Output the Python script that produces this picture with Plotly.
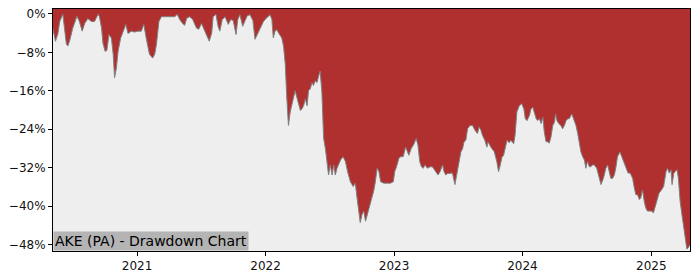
import plotly.graph_objects as go

dates = [
    "2020-05-07", "2020-05-14", "2020-05-21", "2020-05-26", "2020-06-04", "2020-06-09",
    "2020-06-14", "2020-06-18", "2020-06-23", "2020-07-02", "2020-07-14", "2020-07-21",
    "2020-07-29", "2020-08-05", "2020-08-14", "2020-08-24", "2020-09-02", "2020-09-12",
    "2020-09-16", "2020-09-22", "2020-09-26", "2020-10-02", "2020-10-07", "2020-10-13",
    "2020-10-20", "2020-10-25", "2020-10-29", "2020-11-03", "2020-11-08", "2020-11-15",
    "2020-11-22", "2020-11-30", "2020-12-06", "2020-12-16", "2020-12-25",
    "2021-01-03", "2021-01-13", "2021-01-20", "2021-01-27", "2021-02-05", "2021-02-14",
    "2021-02-20", "2021-02-25", "2021-03-04", "2021-03-11", "2021-03-21", "2021-03-30",
    "2021-04-09", "2021-04-18", "2021-04-25", "2021-05-02", "2021-05-09", "2021-05-16",
    "2021-05-22", "2021-05-31", "2021-06-08", "2021-06-19", "2021-06-25", "2021-07-03",
    "2021-07-10", "2021-07-17", "2021-07-25", "2021-08-01", "2021-08-05", "2021-08-13",
    "2021-08-19", "2021-08-24", "2021-08-31", "2021-09-08", "2021-09-17", "2021-09-24",
    "2021-10-01", "2021-10-09", "2021-10-14", "2021-10-20", "2021-10-28", "2021-11-04",
    "2021-11-10", "2021-11-18", "2021-11-26", "2021-12-02", "2021-12-09", "2021-12-16",
    "2021-12-26",
    "2022-01-03", "2022-01-09", "2022-01-14", "2022-01-19", "2022-01-23", "2022-01-28",
    "2022-02-02", "2022-02-07", "2022-02-11", "2022-02-16", "2022-02-21", "2022-02-26",
    "2022-03-02", "2022-03-07", "2022-03-12", "2022-03-17", "2022-03-21", "2022-03-26",
    "2022-03-31", "2022-04-05", "2022-04-10", "2022-04-14", "2022-04-19", "2022-04-24",
    "2022-04-29", "2022-05-03", "2022-05-08", "2022-05-13", "2022-05-17", "2022-05-22",
    "2022-05-27", "2022-06-01", "2022-06-05", "2022-06-10", "2022-06-15", "2022-06-20",
    "2022-06-25", "2022-06-29", "2022-07-04", "2022-07-09", "2022-07-14", "2022-07-18",
    "2022-07-23", "2022-07-28", "2022-08-02", "2022-08-09", "2022-08-16", "2022-08-22",
    "2022-08-30", "2022-09-07", "2022-09-13", "2022-09-18", "2022-09-23", "2022-09-27",
    "2022-10-02", "2022-10-07", "2022-10-12", "2022-10-17", "2022-10-21", "2022-10-26",
    "2022-10-31", "2022-11-04", "2022-11-09", "2022-11-14", "2022-11-19", "2022-11-24",
    "2022-12-03", "2022-12-13", "2022-12-22", "2022-12-30",
    "2023-01-03", "2023-01-08", "2023-01-15", "2023-01-20", "2023-01-27", "2023-02-03",
    "2023-02-08", "2023-02-12", "2023-02-19", "2023-02-27", "2023-03-05", "2023-03-10",
    "2023-03-15", "2023-03-20", "2023-03-25", "2023-03-30", "2023-04-06", "2023-04-13",
    "2023-04-20", "2023-04-25", "2023-04-29", "2023-05-06", "2023-05-12", "2023-05-19",
    "2023-05-23", "2023-05-28", "2023-06-02", "2023-06-09", "2023-06-16", "2023-06-23",
    "2023-06-28", "2023-07-05", "2023-07-10", "2023-07-15", "2023-07-19", "2023-07-24",
    "2023-07-29", "2023-08-05", "2023-08-12", "2023-08-19", "2023-08-26", "2023-08-31",
    "2023-09-05", "2023-09-09", "2023-09-16", "2023-09-22", "2023-09-25", "2023-10-03",
    "2023-10-13", "2023-10-20", "2023-10-25", "2023-10-30", "2023-11-04", "2023-11-08",
    "2023-11-13", "2023-11-18", "2023-11-24", "2023-11-29", "2023-12-07", "2023-12-11",
    "2023-12-16", "2023-12-23", "2023-12-30",
    "2024-01-05", "2024-01-09", "2024-01-14", "2024-01-21", "2024-01-25", "2024-01-30",
    "2024-02-04", "2024-02-09", "2024-02-13", "2024-02-18", "2024-02-23", "2024-02-28",
    "2024-03-03", "2024-03-08", "2024-03-13", "2024-03-17", "2024-03-22", "2024-03-27",
    "2024-04-01", "2024-04-04", "2024-04-08", "2024-04-13", "2024-04-19", "2024-04-24",
    "2024-04-29", "2024-05-04", "2024-05-09", "2024-05-13", "2024-05-20", "2024-05-26",
    "2024-06-01", "2024-06-06", "2024-06-10", "2024-06-15", "2024-06-20", "2024-06-25",
    "2024-06-29", "2024-07-04", "2024-07-09", "2024-07-13", "2024-07-18", "2024-07-23",
    "2024-07-30", "2024-08-06", "2024-08-11", "2024-08-18", "2024-08-25", "2024-08-30",
    "2024-09-03", "2024-09-08", "2024-09-13", "2024-09-18", "2024-09-22", "2024-09-27",
    "2024-10-04", "2024-10-09", "2024-10-16", "2024-10-21", "2024-10-27", "2024-11-02",
    "2024-11-09", "2024-11-13", "2024-11-18", "2024-11-23", "2024-11-28", "2024-12-02",
    "2024-12-07", "2024-12-12", "2024-12-16", "2024-12-21", "2024-12-26",
    "2025-01-02", "2025-01-07", "2025-01-12", "2025-01-17", "2025-01-23", "2025-01-30",
    "2025-02-05", "2025-02-12", "2025-02-16", "2025-02-21", "2025-02-26", "2025-03-01",
    "2025-03-06", "2025-03-10", "2025-03-15", "2025-03-19", "2025-03-24", "2025-03-29",
    "2025-04-03", "2025-04-07", "2025-04-12", "2025-04-17", "2025-04-21",
]

drawdown_pct = [
    -3.2, -5.7, -4.1, -1.6, -0.1, -3.6,
    -6.3, -6.7, -5.7, -3.0, -0.5, -1.6,
    -3.6, -2.0, -1.0, -1.6, -1.6, -0.1,
    -0.6, -3.0, -6.1, -7.8, -7.6, -4.3,
    -5.1, -8.4, -13.3, -11.3, -7.8, -5.1,
    -3.6, -2.2, -4.1, -3.6, -3.8,
    -3.6, -3.6, -2.2, -5.1, -8.4, -9.2,
    -8.4, -6.3, -1.6, -0.6, -0.6, -0.6,
    -0.6, -0.6, -0.1, -1.2, -1.9, -2.4,
    -0.9, -0.6, -1.2, -3.0, -3.2, -2.0,
    -3.2, -4.3, -5.7, -4.0, -0.6, -0.1,
    -2.6, -3.6, -1.2, -0.6, -2.2, -1.2,
    -1.4, -4.3, -1.2, -0.2, -2.6, -1.4,
    -0.4, -0.2, -1.4, -5.3, -4.3, -3.2,
    -1.6,
    -0.9, -0.4, -0.2, -1.2, -5.0, -3.6,
    -3.3, -4.0, -4.5, -5.0, -6.7, -10.5,
    -17.0, -23.2, -20.4, -18.7, -17.7, -16.0,
    -17.4, -19.1, -20.1, -19.8, -19.1, -17.7,
    -19.1, -16.0, -15.6, -14.3, -14.9, -13.9,
    -14.3, -12.9, -11.9, -16.3, -25.9, -28.0,
    -31.4, -33.5, -31.4, -33.5, -31.4, -33.5,
    -32.1, -31.1, -30.4, -29.7, -30.7, -32.8,
    -34.9, -35.9, -35.2, -38.3, -41.0, -43.4,
    -41.7, -41.0, -43.1, -41.7, -40.7, -39.3,
    -38.3, -36.9, -34.9, -32.1, -32.8, -34.9,
    -35.2, -35.2, -35.2, -34.9,
    -32.8, -31.8, -30.0, -29.7, -29.7, -27.7,
    -28.7, -29.4, -28.0, -27.0, -25.9, -27.3,
    -30.7, -31.8, -32.1, -31.4, -32.1, -31.8,
    -31.8, -32.4, -32.8, -33.5, -32.8, -31.4,
    -32.8, -33.5, -33.2, -33.2, -33.1, -35.5,
    -33.5, -31.4, -28.7, -28.0, -26.6, -26.3,
    -23.9, -23.2, -23.2, -24.2, -24.9, -23.5,
    -24.2, -25.2, -26.3, -27.7, -26.6, -27.7,
    -28.7, -30.7, -32.8, -31.4, -29.7, -29.5,
    -27.7, -26.3, -26.8, -26.3, -27.0, -25.2,
    -20.4, -19.1, -18.7,
    -19.8, -21.8, -22.2, -21.1, -19.8, -19.4,
    -20.8, -21.8, -22.2, -21.8, -22.8, -21.5,
    -24.6, -26.6, -26.6, -26.9, -25.6, -23.2,
    -22.5, -20.8, -22.2, -22.8, -23.2, -23.9,
    -23.2, -22.2, -21.8, -21.8, -20.8, -22.2,
    -23.2, -24.9, -26.6, -28.7, -29.7, -30.4,
    -32.1, -30.7, -31.8, -31.8, -31.4, -31.4,
    -32.1, -34.2, -35.5, -34.2, -32.1, -31.4,
    -32.8, -34.2, -34.2, -33.5, -32.1, -29.7,
    -28.7, -29.7, -30.7, -32.1, -33.1, -33.1,
    -34.2, -35.9, -37.6, -37.6, -38.6, -38.3,
    -36.6, -39.0, -40.3, -41.0, -41.0,
    -41.0, -41.4, -40.0, -39.0, -37.3, -36.6,
    -35.9, -32.8, -32.1, -33.1, -32.4, -35.5,
    -33.1, -32.8, -32.4, -34.2, -39.0, -41.7,
    -44.4, -47.2, -48.9, -48.5, -48.0,
]

y_tick_values = [0, -8, -16, -24, -32, -40, -48]
y_tick_labels = ["0%", "\u22128%", "\u221216%", "\u221224%", "\u221232%", "\u221240%", "\u221248%"]
x_tick_values = ["2021-01-01", "2022-01-01", "2023-01-01", "2024-01-01", "2025-01-01"]
x_tick_labels = ["2021", "2022", "2023", "2024", "2025"]
title_text = "AKE (PA) - Drawdown Chart"

Y_RANGE = [-49.3, 1.0]
FILL_RED = "#B03030"
BG_GRAY = "#EEEEEE"

fig = go.Figure()
# invisible ceiling at the top of the axis so that the red fills from the curve up
fig.add_trace(go.Scatter(
    x=dates, y=[Y_RANGE[1]] * len(dates), mode="lines",
    line=dict(width=0, color=FILL_RED), hoverinfo="skip", showlegend=False,
))
fig.add_trace(go.Scatter(
    x=dates, y=drawdown_pct, mode="lines", fill="tonexty",
    fillcolor=FILL_RED, line=dict(color="#808080", width=1),
    showlegend=False,
))

fig.add_annotation(
    x=0, y=0, xref="paper", yref="paper", xanchor="left", yanchor="bottom",
    text=title_text, showarrow=False,
    font=dict(family="DejaVu Sans", size=14, color="#000000"),
    bgcolor="#B4B4B4", borderpad=1,
)

fig.update_layout(
    width=700, height=280,
    margin=dict(l=53, r=10, t=7, b=28),
    paper_bgcolor="white", plot_bgcolor=BG_GRAY,
    font=dict(family="DejaVu Sans", size=12, color="#111111"),
    showlegend=False,
)
fig.update_xaxes(
    type="date", range=[dates[0], dates[-1]],
    tickvals=x_tick_values, ticktext=x_tick_labels,
    ticks="outside", ticklen=4, tickcolor="black",
    showline=True, linecolor="black", linewidth=1, mirror=True,
    showgrid=False, zeroline=False,
)
fig.update_yaxes(
    range=Y_RANGE, tickvals=y_tick_values, ticktext=y_tick_labels,
    ticks="outside", ticklen=4, tickcolor="black",
    showline=True, linecolor="black", linewidth=1, mirror=True,
    showgrid=False, zeroline=False,
)

fig.write_html("out.html")
